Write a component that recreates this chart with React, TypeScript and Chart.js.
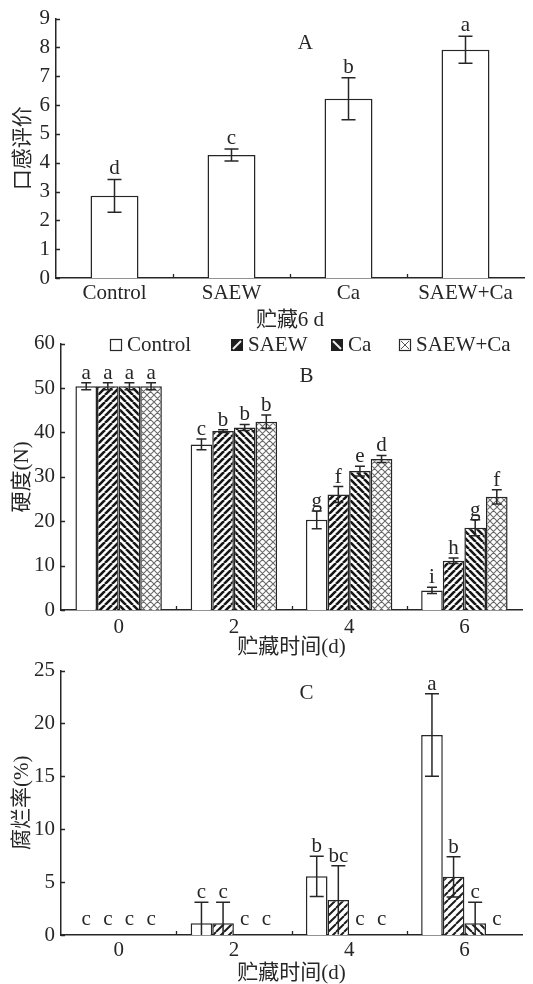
import React, { useEffect, useRef } from 'react';
import { Chart, registerables } from 'chart.js';

Chart.register(...registerables);

const FONT_FAMILY = '"Liberation Serif", "Times New Roman", "Noto Sans CJK SC", serif';
const FONT_SIZE = 21;
const INK = '#262626';

// ---------- Panel A: 口感评价 (storage 6 d) ----------
const tasteCategories = ['Control', 'SAEW', 'Ca', 'SAEW+Ca'];
const tasteValues = [2.85, 4.27, 6.22, 7.92];
const tasteErrors = [0.57, 0.21, 0.73, 0.47];
const tasteLetters = ['d', 'c', 'b', 'a'];

// ---------- Shared categories / series ----------
const storageDays = ['0', '2', '4', '6'];
const seriesNames = ['Control', 'SAEW', 'Ca', 'SAEW+Ca'];

// ---------- Panel B: 硬度(N) ----------
const firmControl = [50.4, 37.3, 20.3, 4.4];
const firmControlErr = [0.8, 1.2, 2.0, 0.7];
const firmSAEW = [50.4, 40.3, 26.0, 11.1];
const firmSAEWErr = [0.8, 0.3, 1.8, 0.6];
const firmCa = [50.4, 41.1, 31.3, 18.5];
const firmCaErr = [0.8, 0.7, 1.1, 1.8];
const firmMix = [50.4, 42.4, 34.0, 25.5];
const firmMixErr = [0.8, 1.5, 0.8, 1.6];
const firmLettersControl = ['a', 'c', 'g', 'i'];
const firmLettersSAEW = ['a', 'b', 'f', 'h'];
const firmLettersCa = ['a', 'b', 'e', 'g'];
const firmLettersMix = ['a', 'b', 'd', 'f'];

// ---------- Panel C: 腐烂率(%) ----------
const rotControl = [0, 1.1, 5.55, 18.9];
const rotControlErr = [0, 2.0, 1.9, 3.9];
const rotSAEW = [0, 1.1, 3.3, 5.5];
const rotSAEWErr = [0, 2.0, 3.25, 1.9];
const rotCa = [0, 0, 0, 1.1];
const rotCaErr = [0, 0, 0, 2.0];
const rotMix = [0, 0, 0, 0];
const rotMixErr = [0, 0, 0, 0];
const rotLettersControl = ['c', 'c', 'b', 'a'];
const rotLettersSAEW = ['c', 'c', 'bc', 'b'];
const rotLettersCa = ['c', 'c', 'c', 'c'];
const rotLettersMix = ['c', 'c', 'c', 'c'];

// ---------- patterns ----------
function stripePattern(dir: '/' | '\\', size: number, lw: number, color: string) {
  const c = document.createElement('canvas');
  c.width = size;
  c.height = size;
  const g = c.getContext('2d')!;
  g.fillStyle = '#ffffff';
  g.fillRect(0, 0, size, size);
  g.strokeStyle = color;
  g.lineWidth = lw;
  g.beginPath();
  for (const k of [-1, 0, 1]) {
    if (dir === '/') {
      g.moveTo(k * size, size);
      g.lineTo(k * size + size, 0);
    } else {
      g.moveTo(k * size, 0);
      g.lineTo(k * size + size, size);
    }
  }
  g.stroke();
  return g.createPattern(c, 'repeat')!;
}

function crossPattern(size: number, lw: number, color: string) {
  const c = document.createElement('canvas');
  c.width = size;
  c.height = size;
  const g = c.getContext('2d')!;
  g.fillStyle = '#ffffff';
  g.fillRect(0, 0, size, size);
  g.strokeStyle = color;
  g.lineWidth = lw;
  g.beginPath();
  for (const k of [-1, 0, 1]) {
    g.moveTo(k * size, size);
    g.lineTo(k * size + size, 0);
    g.moveTo(k * size, 0);
    g.lineTo(k * size + size, size);
  }
  g.stroke();
  return g.createPattern(c, 'repeat')!;
}

type MarksCfg = {
  values: number[][];
  errors: number[][];
  letters: string[][];
  capHalf: number;
  letterGap: number;
  zeroGap: number;
  panelLabel: string;
  labelX: number;
  labelY: number;
  legend?: { names: string[]; xs: number[]; y: number; kinds: string[] };
};

function marksPlugin(cfg: MarksCfg) {
  return {
    id: 'marks' + cfg.panelLabel,
    afterDraw(chart: any) {
      const ctx: CanvasRenderingContext2D = chart.ctx;
      const xs = chart.scales.x;
      const ys = chart.scales.y;
      const area = chart.chartArea;
      ctx.save();
      // inward ticks
      ctx.strokeStyle = INK;
      ctx.lineWidth = 1.3;
      ctx.beginPath();
      ys.ticks.forEach((t: any) => {
        const py = Math.round(ys.getPixelForValue(t.value)) + 0.5;
        ctx.moveTo(area.left, py);
        ctx.lineTo(area.left + 4, py);
      });
      for (let i = 0; i < xs.ticks.length - 1; i++) {
        const px = Math.round(xs.getPixelForValue(i + 0.5)) + 0.5;
        ctx.moveTo(px, area.bottom);
        ctx.lineTo(px, area.bottom - 4);
      }
      ctx.stroke();

      // error bars
      ctx.lineWidth = 1.5;
      ctx.strokeStyle = INK;
      cfg.errors.forEach((errs, di) => {
        const meta = chart.getDatasetMeta(di);
        meta.data.forEach((el: any, j: number) => {
          const v = cfg.values[di][j];
          const e = errs[j];
          if (!e) return;
          const x = el.x;
          const yTop = ys.getPixelForValue(v + e);
          const lo = v - e;
          const yBot = ys.getPixelForValue(Math.max(lo, 0));
          ctx.beginPath();
          ctx.moveTo(x, yTop);
          ctx.lineTo(x, yBot);
          ctx.moveTo(x - cfg.capHalf, yTop);
          ctx.lineTo(x + cfg.capHalf, yTop);
          if (lo > 0.2) {
            ctx.moveTo(x - cfg.capHalf, yBot);
            ctx.lineTo(x + cfg.capHalf, yBot);
          }
          ctx.stroke();
        });
      });

      // significance letters
      ctx.fillStyle = INK;
      ctx.font = `${FONT_SIZE}px ${FONT_FAMILY}`;
      ctx.textAlign = 'center';
      ctx.textBaseline = 'alphabetic';
      cfg.letters.forEach((ls, di) => {
        const meta = chart.getDatasetMeta(di);
        meta.data.forEach((el: any, j: number) => {
          const v = cfg.values[di][j];
          const e = cfg.errors[di][j];
          const top = ys.getPixelForValue(v + e);
          const gap = v + e === 0 ? cfg.zeroGap : cfg.letterGap;
          ctx.fillText(ls[j], el.x, top - gap);
        });
      });

      // panel label
      ctx.textBaseline = 'middle';
      ctx.fillText(cfg.panelLabel, xs.getPixelForValue(cfg.labelX), ys.getPixelForValue(cfg.labelY));

      // legend
      if (cfg.legend) {
        const L = cfg.legend;
        L.names.forEach((name, i) => {
          const x = L.xs[i];
          const y = L.y - 6;
          const s = 12;
          ctx.lineWidth = 1.2;
          ctx.strokeStyle = INK;
          if (L.kinds[i] === 'plain') {
            ctx.fillStyle = '#fff';
            ctx.fillRect(x, y, s, s);
            ctx.strokeRect(x + 0.5, y + 0.5, s - 1, s - 1);
          } else if (L.kinds[i] === 'slash' || L.kinds[i] === 'back') {
            ctx.fillStyle = '#1e1e1e';
            ctx.fillRect(x, y, s, s);
            ctx.strokeStyle = '#f2f2f2';
            ctx.lineWidth = 2;
            ctx.beginPath();
            if (L.kinds[i] === 'slash') {
              ctx.moveTo(x + 2, y + s - 2);
              ctx.lineTo(x + s - 2, y + 2);
            } else {
              ctx.moveTo(x + 2, y + 2);
              ctx.lineTo(x + s - 2, y + s - 2);
            }
            ctx.stroke();
          } else {
            ctx.fillStyle = '#fff';
            ctx.fillRect(x, y, s, s);
            ctx.strokeRect(x + 0.5, y + 0.5, s - 1, s - 1);
            ctx.strokeStyle = '#555';
            ctx.lineWidth = 1;
            ctx.beginPath();
            ctx.moveTo(x + 2, y + 2);
            ctx.lineTo(x + s - 2, y + s - 2);
            ctx.moveTo(x + s - 2, y + 2);
            ctx.lineTo(x + 2, y + s - 2);
            ctx.stroke();
          }
          ctx.fillStyle = INK;
          ctx.textAlign = 'left';
          ctx.textBaseline = 'middle';
          ctx.font = `${FONT_SIZE}px ${FONT_FAMILY}`;
          ctx.fillText(name, x + 17, L.y);
        });
      }
      ctx.restore();
    },
  };
}

type BaseP = {
  padTop: number;
  padRight: number;
  yWidth: number;
  xHeight: number;
  yMax: number;
  yStep: number;
  yTitle: string;
  xTitle: string;
  xTitlePadBottom: number;
  xTickPad: number;
  yTitlePad: number;
};

function baseOptions(p: BaseP): any {
  const font = { family: FONT_FAMILY, size: FONT_SIZE };
  return {
    responsive: false,
    animation: false,
    devicePixelRatio: 1,
    layout: { padding: { top: p.padTop, right: p.padRight, left: 0, bottom: 0 } },
    plugins: { legend: { display: false }, tooltip: { enabled: false } },
    scales: {
      x: {
        grid: { display: false, drawTicks: false },
        border: { display: true, color: INK, width: 1.5 },
        ticks: { color: INK, font, padding: p.xTickPad, maxRotation: 0, autoSkip: false },
        title: {
          display: true,
          text: p.xTitle,
          color: INK,
          font: { ...font, lineHeight: 1 },
          padding: { top: 0, bottom: p.xTitlePadBottom },
        },
        afterFit: (s: any) => {
          s.height = p.xHeight;
        },
      },
      y: {
        min: 0,
        max: p.yMax,
        grid: { display: false, drawTicks: false },
        border: { display: true, color: INK, width: 1.5 },
        ticks: { stepSize: p.yStep, color: INK, font, padding: 6 },
        title: {
          display: true,
          text: p.yTitle,
          color: INK,
          font: { ...font, lineHeight: 1 },
          padding: { top: p.yTitlePad, bottom: 0 },
        },
        afterFit: (s: any) => {
          s.width = p.yWidth;
        },
      },
    },
  };
}

function configA(): any {
  return {
    type: 'bar',
    data: {
      labels: tasteCategories,
      datasets: [
        {
          label: '口感评价',
          data: tasteValues,
          backgroundColor: '#ffffff',
          borderColor: INK,
          borderWidth: 1.5,
          barPercentage: 0.41,
          categoryPercentage: 1,
        },
      ],
    },
    options: baseOptions({
      padTop: 17,
      padRight: 9,
      yWidth: 56,
      xHeight: 53,
      yMax: 9,
      yStep: 1,
      yTitle: '口感评价',
      xTitle: '贮藏6 d',
      xTitlePadBottom: 0,
      xTickPad: 3,
      yTitlePad: 13,
    }),
    plugins: [
      marksPlugin({
        values: [tasteValues],
        errors: [tasteErrors],
        letters: [tasteLetters],
        capHalf: 7,
        letterGap: 5,
        zeroGap: 5,
        panelLabel: 'A',
        labelX: 1.63,
        labelY: 8.14,
      }),
    ],
  };
}

function groupedDatasets(vals: number[][], fills: any[]) {
  return vals.map((v, i) => ({
    label: seriesNames[i],
    data: v,
    backgroundColor: fills[i],
    borderColor: INK,
    borderWidth: 1.5,
    barPercentage: 1,
    categoryPercentage: 0.75,
  }));
}

function configB(): any {
  const vals = [firmControl, firmSAEW, firmCa, firmMix];
  const fills = [
    '#ffffff',
    stripePattern('/', 7, 2.6, '#161616'),
    stripePattern('\\', 7, 2.6, '#161616'),
    crossPattern(7, 1.1, '#6a6a6a'),
  ];
  return {
    type: 'bar',
    data: { labels: storageDays, datasets: groupedDatasets(vals, fills) },
    options: baseOptions({
      padTop: 16,
      padRight: 11,
      yWidth: 61,
      xHeight: 48,
      yMax: 60,
      yStep: 10,
      yTitle: '硬度(N)',
      xTitle: '贮藏时间(d)',
      xTitlePadBottom: 0,
      xTickPad: 5,
      yTitlePad: 12,
    }),
    plugins: [
      marksPlugin({
        values: vals,
        errors: [firmControlErr, firmSAEWErr, firmCaErr, firmMixErr],
        letters: [firmLettersControl, firmLettersSAEW, firmLettersCa, firmLettersMix],
        capHalf: 5,
        letterGap: 4,
        zeroGap: 4,
        panelLabel: 'B',
        labelX: 1.63,
        labelY: 52.7,
        legend: { names: seriesNames, xs: [110, 231, 331, 399], y: 20, kinds: ['plain', 'slash', 'back', 'cross'] },
      }),
    ],
  };
}

function configC(): any {
  const vals = [rotControl, rotSAEW, rotCa, rotMix];
  const fills = [
    '#ffffff',
    stripePattern('/', 8, 2.0, '#1c1c1c'),
    stripePattern('\\', 8, 2.0, '#1c1c1c'),
    crossPattern(7, 1.1, '#6a6a6a'),
  ];
  return {
    type: 'bar',
    data: { labels: storageDays, datasets: groupedDatasets(vals, fills) },
    options: baseOptions({
      padTop: 14,
      padRight: 11,
      yWidth: 61,
      xHeight: 49,
      yMax: 25,
      yStep: 5,
      yTitle: '腐烂率(%)',
      xTitle: '贮藏时间(d)',
      xTitlePadBottom: 0,
      xTickPad: 3,
      yTitlePad: 12,
    }),
    plugins: [
      marksPlugin({
        values: vals,
        errors: [rotControlErr, rotSAEWErr, rotCaErr, rotMixErr],
        letters: [rotLettersControl, rotLettersSAEW, rotLettersCa, rotLettersMix],
        capHalf: 7,
        letterGap: 4,
        zeroGap: 10,
        panelLabel: 'C',
        labelX: 1.63,
        labelY: 22.83,
      }),
    ],
  };
}

export default function App() {
  const refA = useRef<HTMLCanvasElement>(null);
  const refB = useRef<HTMLCanvasElement>(null);
  const refC = useRef<HTMLCanvasElement>(null);

  useEffect(() => {
    const charts = [
      new Chart(refA.current!, configA()),
      new Chart(refB.current!, configB()),
      new Chart(refC.current!, configC()),
    ];
    return () => charts.forEach((c) => c.destroy());
  }, []);

  return (
    <div style={{ position: 'absolute', left: 0, top: 0, width: 533, height: 984, background: '#fff' }}>
      <canvas ref={refA} width={533} height={331} style={{ position: 'absolute', left: 0, top: 0, width: 533, height: 331 }} />
      <canvas ref={refB} width={533} height={333} style={{ position: 'absolute', left: 0, top: 325, width: 533, height: 333 }} />
      <canvas ref={refC} width={533} height={332} style={{ position: 'absolute', left: 0, top: 652, width: 533, height: 332 }} />
    </div>
  );
}
